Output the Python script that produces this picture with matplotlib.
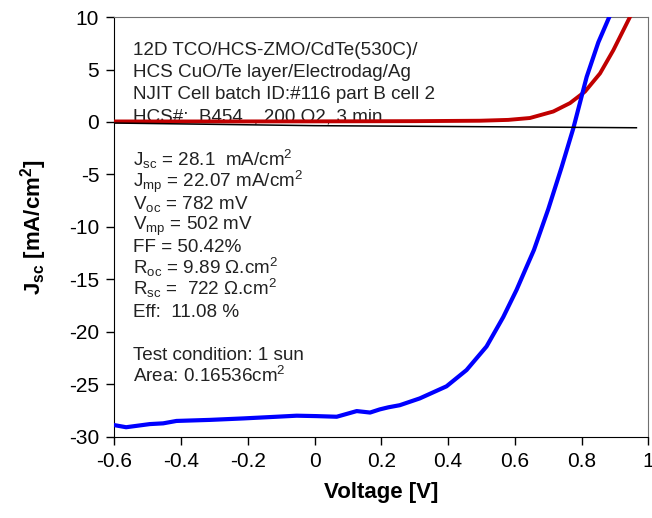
import matplotlib
matplotlib.use('Agg')
import matplotlib.pyplot as plt
from matplotlib.ticker import MultipleLocator

plt.rcParams['font.family'] = ['Liberation Sans', 'DejaVu Sans']
plt.rcParams['mathtext.fontset'] = 'custom'
plt.rcParams['mathtext.rm'] = 'Liberation Sans'
plt.rcParams['mathtext.it'] = 'Liberation Sans'
plt.rcParams['mathtext.bf'] = 'Liberation Sans:bold'
plt.rcParams['axes.unicode_minus'] = False

# light J-V curve (blue)
v_light = [-0.6, -0.565, -0.494, -0.454, -0.414, -0.314, -0.214, -0.114, -0.054, 0.006,
           0.066, 0.126, 0.166, 0.195, 0.221, 0.255, 0.315, 0.395, 0.455, 0.515,
           0.565, 0.605, 0.635, 0.657, 0.70, 0.740, 0.775, 0.815, 0.850, 0.883]
j_light = [-28.9, -29.1, -28.8, -28.73, -28.5, -28.4, -28.26, -28.1, -28.0, -28.04,
           -28.1, -27.56, -27.7, -27.4, -27.2, -27.0, -26.35, -25.2, -23.65, -21.4,
           -18.6, -16.0, -13.8, -12.2, -8.3, -4.3, -0.6, 4.3, 7.6, 10.03]

# dark J-V curve (red)
v_dark = [-0.6, -0.3, 0.0, 0.3, 0.495, 0.58, 0.645, 0.715, 0.765, 0.81,
          0.855, 0.895, 0.945]
j_dark = [0.05, 0.05, 0.06, 0.08, 0.12, 0.2, 0.38, 1.0, 1.8, 2.9,
          4.63, 6.85, 10.03]

# thin black line
v_black = [-0.6, 0.0, 0.5, 0.964]
j_black = [-0.1, -0.35, -0.45, -0.55]

header_lines = ['12D TCO/HCS-ZMO/CdTe(530C)/',
                'HCS CuO/Te layer/Electrodag/Ag',
                'NJIT Cell batch ID:#116 part B cell 2',
                'HCS#:  B454  , 200 O2, 3 min']
param_lines = [r'J$_{\rm sc}$ = 28.1  mA/cm$^2$',
               r'J$_{\rm mp}$ = 22.07 mA/cm$^2$',
               r'V$_{\rm oc}$ = 782 mV',
               r'V$_{\rm mp}$ = 502 mV',
               'FF = 50.42%',
               r'R$_{\rm oc}$ = 9.89 Ω.cm$^2$',
               r'R$_{\rm sc}$ =  722 Ω.cm$^2$',
               'Eff:  11.08 %',
               '',
               'Test condition: 1 sun',
               r'Area: 0.16536cm$^2$']

fig = plt.figure(figsize=(6.52, 5.18), dpi=100)
ax = fig.add_axes([0.1755, 0.157, 0.819, 0.81])

ax.plot(v_dark, j_dark, color='#C00000', lw=2.8, zorder=3)
ax.plot(v_light, j_light, color='#0000FF', lw=3.0, zorder=4)
ax.plot(v_black, j_black, color='black', lw=1.1, zorder=5)

ax.set_xlim(-0.6, 1.0)
ax.set_ylim(-30, 10)
ax.xaxis.set_major_locator(MultipleLocator(0.2))
ax.yaxis.set_major_locator(MultipleLocator(5))
ax.set_xticks(ax.get_xticks())
ax.set_xticklabels(['%g' % round(t, 1) for t in ax.get_xticks()])
ax.set_xlim(-0.6, 1.0)
ax.tick_params(direction='out', length=6, labelsize=15, width=1, pad=5)

for s in ['top', 'right']:
    ax.spines[s].set_color('#707070')

ax.set_xlabel('Voltage [V]', fontsize=16, fontweight='bold', labelpad=8)
ax.set_ylabel(r'$\mathbf{J_{sc}}$ [mA/cm$^\mathbf{2}$]', fontsize=16,
              fontweight='bold', labelpad=14)

# annotation text sits under the curves
y = 6.38
for line in header_lines:
    ax.text(-0.543, y, line, fontsize=13.6, va='baseline', ha='left',
            color='#222222', zorder=2)
    y -= 2.1
y = -4.15
for line in param_lines:
    ax.text(-0.543, y, line, fontsize=13.6, va='baseline', ha='left',
            color='#222222', zorder=2)
    y -= 2.06

fig.savefig('out.png', dpi=100)
